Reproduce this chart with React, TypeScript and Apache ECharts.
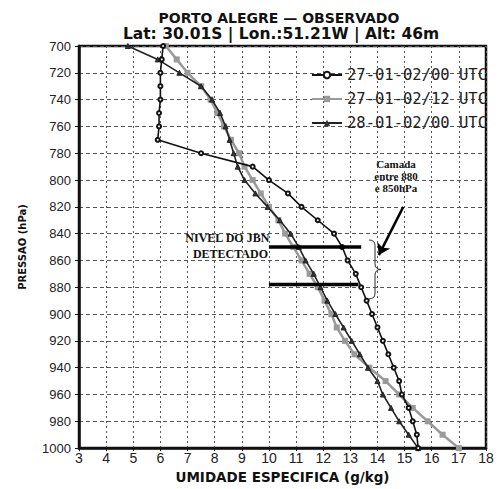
import React, { useEffect, useRef } from "react";
import * as echarts from "echarts";

const pressureLevels = [700, 710, 720, 730, 740, 750, 760, 770, 780, 790, 800, 810, 820, 830, 840, 850, 860, 870, 880, 890, 900, 910, 920, 930, 940, 950, 960, 970, 980, 990, 1000];
const q27_00 = [6.1, 6.05, 6.0, 6.0, 6.0, 5.95, 5.95, 5.9, 7.5, 9.4, 10.0, 10.7, 11.2, 11.8, 12.4, 12.7, 12.9, 13.2, 13.4, 13.6, 13.8, 14.0, 14.2, 14.4, 14.6, 14.8, 14.9, 15.15, 15.3, 15.45, 15.5];
const q27_12 = [6.2, 6.6, 7.0, 7.5, 7.85, 8.1, 8.35, 8.6, 8.9, 9.1, 9.4, 9.7, 10.0, 10.35, 10.6, 10.9, 11.2, 11.5, 11.8, 12.05, 12.3, 12.5, 12.8, 13.15, 13.7, 14.3, 14.8, 15.3, 15.85, 16.4, 17.0];
const q28_00 = [4.8, 5.9, 6.7, 7.5, 7.9, 8.2, 8.4, 8.55, 8.7, 8.85, 9.1, 9.5, 9.95, 10.4, 10.8, 11.1, 11.35, 11.65, 11.9, 12.15, 12.45, 12.75, 13.05, 13.35, 13.65, 14.0, 14.2, 14.5, 14.8, 15.15, 15.5];
const seriesNames = ["27-01-02/00 UTC", "27-01-02/12 UTC", "28-01-02/00 UTC"];
const jbnLevels = [850, 878];
const jbnStart = [10.0, 10.0];
const jbnEnd = [13.4, 13.3];
const arrowFrom = [14.95, 820];
const arrowTo = [14.05, 856];
const titleLines = ["PORTO ALEGRE — OBSERVADO", "Lat: 30.01S | Lon.:51.21W | Alt: 46m"];

const bracePath = "M0 0 Q6 0 6 6 L6 25 Q6 31 12 31 Q6 31 6 37 L6 56 Q6 62 0 62";
echarts.graphic.registerShape("brace", (echarts.graphic as any).extendPath(bracePath, {}));

export default function App() {
  const ref = useRef<HTMLDivElement>(null);
  useEffect(() => {
    if (!ref.current) return;
    const chart = echarts.init(ref.current, undefined, { renderer: "svg" });
    const pair = (arr: number[]) => pressureLevels.map((p, i) => [arr[i], p]);
    const serif = "Liberation Serif";
    const option: any = {
      animation: false,
      backgroundColor: "#fff",
      legend: {
        data: seriesNames,
        orient: "vertical",
        left: 306,
        top: 62,
        itemGap: 8,
        itemWidth: 30,
        itemHeight: 8,
        textStyle: { fontFamily: "DejaVu Sans Mono", fontSize: 15.5, color: "#222" },
      },
      grid: {
        left: 79,
        right: 13,
        top: 46,
        bottom: 29,
        show: true,
        borderColor: "#111",
        borderWidth: 2.5,
      },
      xAxis: {
        type: "value",
        min: 3,
        max: 18,
        interval: 1,
        name: "UMIDADE ESPECIFICA (g/kg)",
        nameLocation: "middle",
        nameGap: 20,
        nameTextStyle: { fontFamily: "DejaVu Sans", fontWeight: "bold", fontSize: 13.5, color: "#111" },
        axisLine: { show: true, lineStyle: { color: "#111", width: 2.5 } },
        axisTick: { show: true, length: 3, lineStyle: { color: "#111" } },
        axisLabel: { margin: 3, fontFamily: "Liberation Sans", fontSize: 14, color: "#222" },
        splitLine: { show: true, lineStyle: { type: [2, 3], color: "#555", width: 1 } },
      },
      yAxis: {
        type: "value",
        min: 700,
        max: 1000,
        interval: 20,
        inverse: true,
        name: "PRESSAO (hPa)",
        nameLocation: "middle",
        nameGap: 52,
        nameRotate: 90,
        nameTextStyle: { fontFamily: "DejaVu Sans", fontWeight: "bold", fontSize: 10, color: "#111" },
        axisLine: { show: true, lineStyle: { color: "#111", width: 2.5 } },
        axisTick: { show: true, length: 4, lineStyle: { color: "#111" } },
        axisLabel: { margin: 8, fontFamily: "Liberation Sans", fontSize: 13, color: "#222", formatter: (v: number) => String(v) },
        splitLine: { show: true, lineStyle: { type: [4, 3], color: "#555", width: 1 } },
      },
      series: [
        {
          name: seriesNames[1],
          type: "line",
          data: pair(q27_12),
          symbol: "rect",
          symbolSize: 6,
          itemStyle: { color: "#9a9a9a" },
          lineStyle: { color: "#9a9a9a", width: 2.5 },
          z: 2,
        },
        {
          name: seriesNames[2],
          type: "line",
          data: pair(q28_00),
          symbol: "triangle",
          symbolSize: 5,
          itemStyle: { color: "#333", borderColor: "#222" },
          lineStyle: { color: "#222", width: 1.6 },
          z: 3,
        },
        {
          name: seriesNames[0],
          type: "line",
          data: pair(q27_00),
          symbol: "emptyCircle",
          symbolSize: 4,
          itemStyle: { color: "#111", borderColor: "#111", borderWidth: 1 },
          lineStyle: { color: "#111", width: 1.6 },
          z: 4,
        },
        ...jbnLevels.map((lev, i) => ({
          name: "jbn" + i,
          type: "line",
          data: [[jbnStart[i], lev], [jbnEnd[i], lev]],
          symbol: "none",
          lineStyle: { color: "#000", width: 3.5 },
          z: 5,
        })),
        {
          name: "arrow",
          type: "lines",
          coordinateSystem: "cartesian2d",
          data: [{ coords: [arrowFrom, arrowTo] }],
          symbol: ["none", "arrow"],
          symbolSize: 11,
          lineStyle: { color: "#000", width: 2.5, opacity: 1 },
          z: 6,
        },
      ],
      graphic: [
        {
          type: "text",
          x: 279,
          y: 18,
          style: { text: titleLines[0], font: "bold 14px 'DejaVu Sans'", fill: "#111", align: "center", verticalAlign: "middle" },
        },
        {
          type: "text",
          x: 281,
          y: 33.5,
          style: { text: titleLines[1], font: "bold 15.5px 'DejaVu Sans'", fill: "#111", align: "center", verticalAlign: "middle" },
        },
        {
          type: "text",
          right: 499 - 270,
          top: 232,
          style: { text: "NIVEL DO JBN", font: `bold 12px '${serif}'`, fill: "#111" },
        },
        {
          type: "text",
          right: 499 - 268,
          top: 248,
          style: { text: "DETECTADO", font: `bold 12px '${serif}'`, fill: "#111" },
        },
        {
          type: "text",
          x: 396,
          y: 158,
          style: {
            text: "Camada\nentre 880\ne 850hPa",
            font: `bold 11px '${serif}'`,
            lineHeight: 12,
            align: "center",
            fill: "#111",
          },
        },
        {
          type: "brace",
          x: 369,
          y: 240,
          scaleX: 1,
          scaleY: 0.95,
          style: { stroke: "#222", fill: "none", lineWidth: 1 },
        },
      ],
    };
    chart.setOption(option);
    return () => chart.dispose();
  }, []);
  return <div ref={ref} style={{ width: 499, height: 489, position: "absolute", left: 0, top: 0 }} />;
}
